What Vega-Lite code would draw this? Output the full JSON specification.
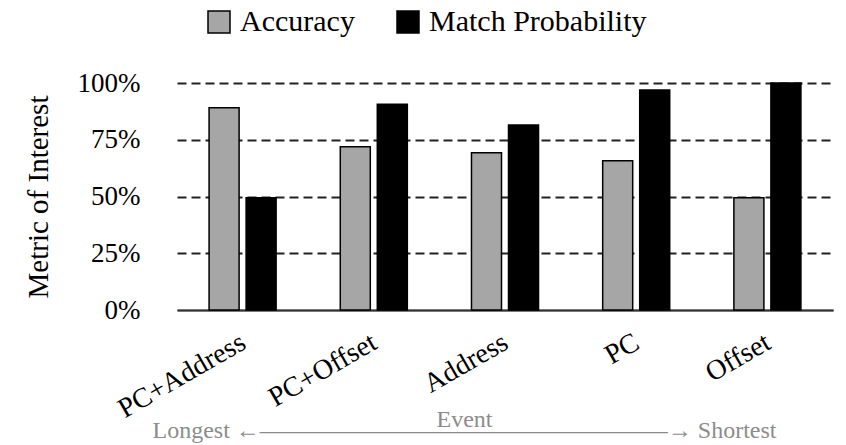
{
  "$schema": "https://vega.github.io/schema/vega-lite/v6.json",
  "width": 656,
  "height": 227,
  "autosize": {"type": "none"},
  "padding": {"left": 177, "top": 83, "right": 13, "bottom": 135},
  "background": "white",
  "config": {"font": "Liberation Serif", "view": {"stroke": null}},
  "data": {
    "values": [
      {"event": "PC+Address", "metric": "Accuracy", "value": 0.891},
      {"event": "PC+Address", "metric": "Match Probability", "value": 0.495},
      {"event": "PC+Offset", "metric": "Accuracy", "value": 0.719},
      {"event": "PC+Offset", "metric": "Match Probability", "value": 0.906},
      {"event": "Address", "metric": "Accuracy", "value": 0.693},
      {"event": "Address", "metric": "Match Probability", "value": 0.815},
      {"event": "PC", "metric": "Accuracy", "value": 0.658},
      {"event": "PC", "metric": "Match Probability", "value": 0.969},
      {"event": "Offset", "metric": "Accuracy", "value": 0.495},
      {"event": "Offset", "metric": "Match Probability", "value": 1.0}
    ]
  },
  "mark": {"type": "bar", "stroke": "black", "strokeWidth": 1.5},
  "encoding": {
    "x": {
      "field": "event",
      "type": "nominal",
      "sort": ["PC+Address", "PC+Offset", "Address", "PC", "Offset"],
      "scale": {"paddingInner": 0.489, "paddingOuter": 0.2445},
      "axis": {
        "title": ["\u2002Event", "Longest ←—————————————————→ Shortest"],
        "titleFontSize": 24,
        "titleColor": "#8c8c8c",
        "titleFontWeight": "normal",
        "titleX": 287,
        "titleY": 116,
        "titleBaseline": "alphabetic",
        "titleAlign": "center",
        "titleAngle": 0,
        "titleLineHeight": 11,
        "titleLimit": 1000,
        "labelAngle": -30,
        "labelAlign": "right",
        "labelBaseline": "top",
        "labelPadding": 18,
        "labelOffset": -6,
        "labelFontSize": 28,
        "labelColor": "black",
        "labelOverlap": false,
        "labelLimit": 400,
        "ticks": false,
        "domainColor": "#333333",
        "domainWidth": 1.5,
        "grid": false
      }
    },
    "xOffset": {
      "field": "metric",
      "type": "nominal",
      "sort": ["Accuracy", "Match Probability"],
      "scale": {"paddingInner": 0.189, "paddingOuter": 0}
    },
    "y": {
      "field": "value",
      "type": "quantitative",
      "scale": {"domain": [0, 1]},
      "axis": {
        "format": "%",
        "values": [0, 0.25, 0.5, 0.75, 1],
        "title": "Metric of Interest",
        "titleFontSize": 29,
        "titleFontWeight": "normal",
        "titleColor": "black",
        "titlePadding": 24,
        "labelFontSize": 27,
        "labelColor": "black",
        "labelPadding": 37,
        "ticks": false,
        "domain": false,
        "gridColor": "#222222",
        "gridWidth": 2,
        "gridDash": {"condition": {"test": "datum.value === 0", "value": []}, "value": [9, 5]}
      }
    },
    "color": {
      "field": "metric",
      "type": "nominal",
      "scale": {"domain": ["Accuracy", "Match Probability"], "range": ["#a6a6a6", "#000000"]},
      "legend": {
        "title": null,
        "orient": "none",
        "direction": "horizontal",
        "legendX": 27,
        "legendY": -76,
        "symbolType": "square",
        "symbolSize": 484,
        "symbolStrokeColor": "black",
        "symbolStrokeWidth": 1.5,
        "symbolOpacity": 1,
        "labelFontSize": 30,
        "labelColor": "black",
        "labelOffset": 6,
        "labelLimit": 400,
        "columnPadding": 38
      }
    }
  }
}
